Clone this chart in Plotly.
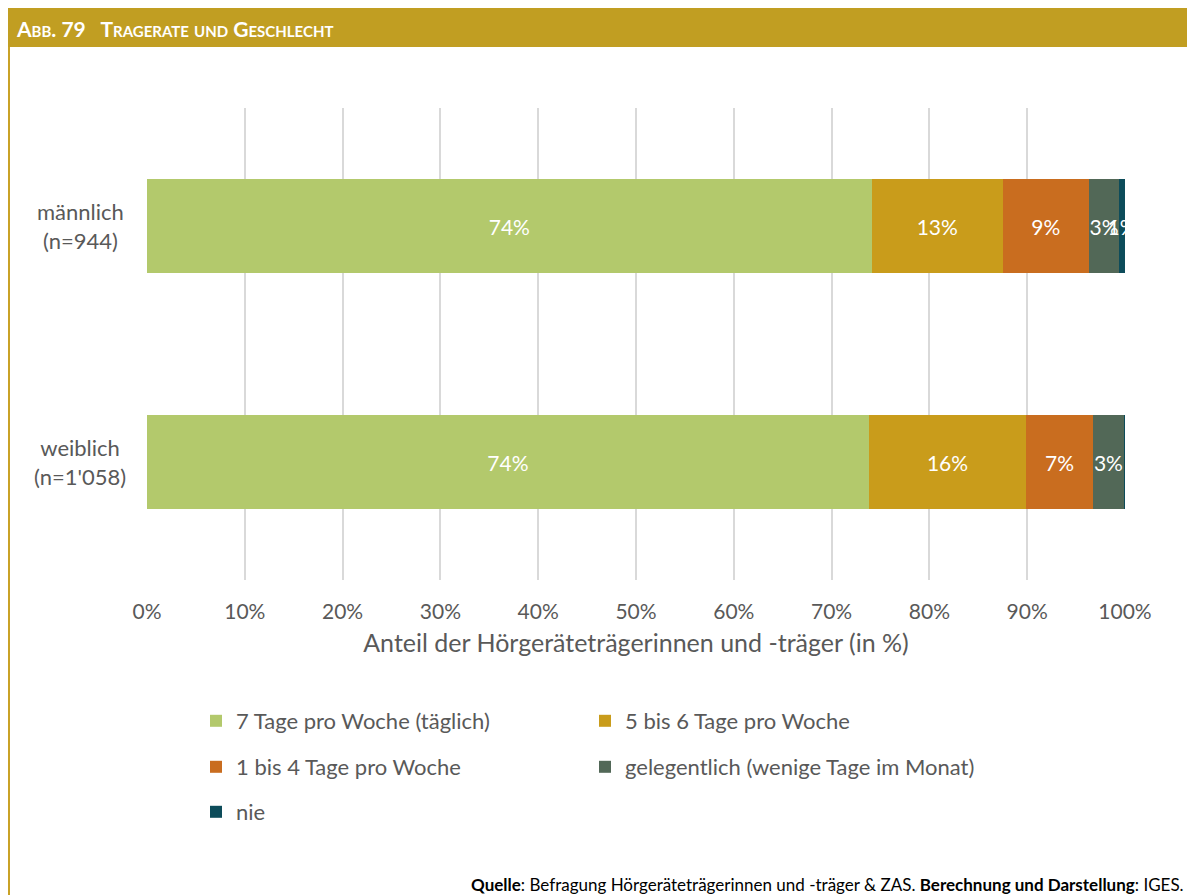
import plotly.graph_objects as go

# ---- data ----
groups = ["männlich (n=944)", "weiblich (n=1'058)"]
group_labels = ["männlich<br>(n=944)", "weiblich<br>(n=1'058)"]
series_names = [
    "7 Tage pro Woche (täglich)",
    "5 bis 6 Tage pro Woche",
    "1 bis 4 Tage pro Woche",
    "gelegentlich (wenige Tage im Monat)",
    "nie",
]
values = {
    "7 Tage pro Woche (täglich)": [74.1, 73.8],
    "5 bis 6 Tage pro Woche": [13.4, 16.1],
    "1 bis 4 Tage pro Woche": [8.8, 6.8],
    "gelegentlich (wenige Tage im Monat)": [3.1, 3.2],
    "nie": [0.6, 0.1],
}
labels = {
    "7 Tage pro Woche (täglich)": ["74%", "74%"],
    "5 bis 6 Tage pro Woche": ["13%", "16%"],
    "1 bis 4 Tage pro Woche": ["9%", "7%"],
    "gelegentlich (wenige Tage im Monat)": ["3%", "3%"],
    "nie": ["1%", ""],
}
colors = ["#B3C96C", "#C99C1B", "#C96D1F", "#526857", "#0D4C5A"]
legend_ids = ["legend", "legend", "legend2", "legend2", "legend3"]

FONT = "Lato"
GRAY = "#595959"
W, H = 1195, 895
L, R, T, B = 139, 78, 100, 323
PW, PH = W - L - R, H - T - B
OFF = 8  # page offset of the figure (body margin)


def px(x):  # page pixel -> paper x
    return (x - OFF - L) / PW


def py(y):  # page pixel -> paper y
    return (H - B - (y - OFF)) / PH


fig = go.Figure()
for name, col, lg in zip(series_names, colors, legend_ids):
    fig.add_trace(go.Bar(
        y=groups, x=values[name], name=name, orientation="h",
        marker=dict(color=col, line=dict(width=0)),
        text=labels[name], textposition="inside", insidetextanchor="middle",
        textangle=0, constraintext="none",
        textfont=dict(color="white", size=21, family=FONT),
        legend=lg, width=0.4,
    ))

legend_common = dict(orientation="h", xanchor="left", yanchor="middle",
                     entrywidth=344, entrywidthmode="pixels", traceorder="normal",
                     font=dict(size=22, color=GRAY, family=FONT),
                     bgcolor="rgba(0,0,0,0)")
LEG_X = px(196)

fig.update_layout(
    width=W, height=H,
    margin=dict(l=L, r=R, t=T, b=B),
    barmode="stack",
    plot_bgcolor="white", paper_bgcolor="white",
    font=dict(family=FONT, color=GRAY, size=21),
    uniformtext=dict(minsize=21, mode="show"),
    xaxis=dict(
        range=[0, 100], dtick=10, ticksuffix="%",
        showgrid=True, gridcolor="#D9D9D9", gridwidth=2,
        zeroline=False, showline=False,
        tickfont=dict(size=21, color=GRAY, family=FONT),
        ticklabelstandoff=17,
        title=dict(text="Anteil der Hörgeräteträgerinnen und -träger (in %)",
                   font=dict(size=25, color=GRAY, family=FONT), standoff=12),
        fixedrange=True,
    ),
    yaxis=dict(
        autorange="reversed", showgrid=False, showline=False,
        showticklabels=False,
    ),
    showlegend=True,
    legend=dict(x=LEG_X, y=py(721), **legend_common),
    legend2=dict(x=LEG_X, y=py(767), **legend_common),
    legend3=dict(x=LEG_X, y=py(812), **legend_common),
)

for g, lab in zip(groups, group_labels):
    fig.add_annotation(
        xref="paper", yref="y", x=px(80), y=g, xanchor="center", yanchor="middle",
        text=lab, align="center", showarrow=False,
        font=dict(size=22, color=GRAY, family=FONT),
    )

# header bar and left border
fig.add_shape(type="rect", xref="paper", yref="paper",
              x0=px(8), x1=px(1210), y0=py(47), y1=py(8),
              fillcolor="#C19E22", line=dict(width=0), layer="above")
fig.add_shape(type="line", xref="paper", yref="paper",
              x0=px(9), x1=px(9), y0=py(47), y1=py(905),
              line=dict(color="#C9A227", width=2))

fig.add_annotation(
    xref="paper", yref="paper", x=px(14), y=py(28), xanchor="left", yanchor="middle",
    text="<b>Abb. 79\u00a0\u00a0\u00a0Tragerate und Geschlecht</b>", showarrow=False,
    font=dict(family=FONT, size=21, color="white", variant="small-caps"),
)
fig.add_annotation(
    xref="paper", yref="paper", x=px(1186), y=py(884), xanchor="right", yanchor="middle",
    text="<b>Quelle</b>: Befragung Hörgeräteträgerinnen und -träger & ZAS. "
         "<b>Berechnung und Darstellung</b>: IGES.",
    showarrow=False, font=dict(family=FONT, size=17, color="black"),
)

fig.write_html("out.html")
